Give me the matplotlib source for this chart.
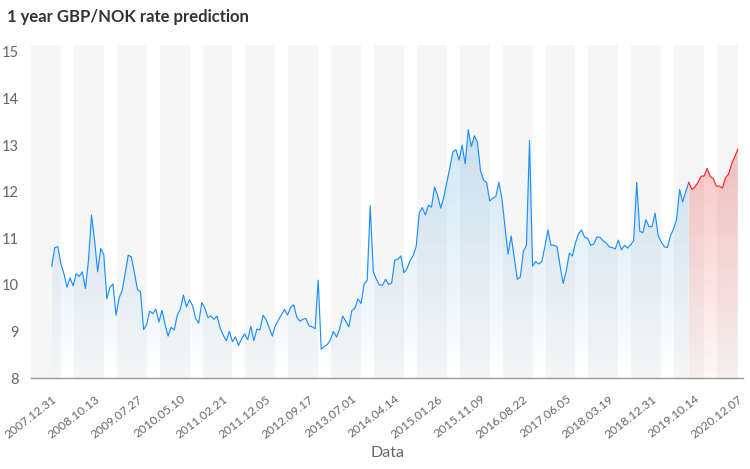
import numpy as np
import matplotlib.pyplot as plt
from matplotlib.colors import to_rgb

plt.rcParams['font.family'] = ['Lato', 'DejaVu Sans']

# weekly-ish GBP/NOK rate
history = [
    10.40, 10.80, 10.82, 10.45, 10.24, 9.95, 10.15, 9.98, 10.24, 10.18,
    10.28, 9.92, 10.52, 11.50, 10.95, 10.28, 10.78, 10.65, 9.70, 9.95,
    10.02, 9.35, 9.72, 9.88, 10.25, 10.64, 10.60, 10.26, 9.90, 9.85,
    9.04, 9.15, 9.44, 9.38, 9.48, 9.20, 9.45, 9.15, 8.90, 9.09,
    9.03, 9.35, 9.48, 9.78, 9.53, 9.68, 9.55, 9.28, 9.18, 9.62,
    9.50, 9.30, 9.33, 9.26, 9.33, 9.07, 8.92, 8.80, 9.00, 8.78,
    8.88, 8.70, 8.84, 8.95, 8.82, 9.11, 8.80, 9.05, 9.03, 9.35,
    9.25, 9.08, 8.90, 9.12, 9.24, 9.36, 9.47, 9.35, 9.52, 9.57,
    9.31, 9.22, 9.26, 9.28, 9.12, 9.10, 9.06, 10.10, 8.62, 8.68,
    8.72, 8.82, 9.00, 8.88, 9.05, 9.33, 9.22, 9.10, 9.45, 9.50,
    9.70, 9.60, 10.02, 10.10, 11.70, 10.28, 10.12, 10.00, 9.99, 10.12,
    10.01, 10.04, 10.53, 10.55, 10.62, 10.26, 10.35, 10.52, 10.63, 10.82,
    11.55, 11.66, 11.50, 11.71, 11.67, 12.10, 11.92, 11.65, 11.88, 12.20,
    12.52, 12.86, 12.90, 12.68, 13.00, 12.60, 13.33, 12.97, 13.20, 13.06,
    12.45, 12.25, 12.20, 11.80, 11.86, 11.90, 12.20, 11.85, 11.24, 10.66,
    11.05, 10.60, 10.12, 10.17, 10.72, 10.85, 13.10, 10.40, 10.50, 10.45,
    10.50, 10.81, 11.18, 10.85, 10.85, 10.82, 10.40, 10.03, 10.30, 10.68,
    10.62, 10.90, 11.10, 11.18, 11.02, 11.00, 10.85, 10.88, 11.03, 11.02,
    10.95, 10.90, 10.82, 10.80, 10.77, 10.96, 10.75, 10.85, 10.79, 10.86,
    10.95, 12.20, 11.15, 11.12, 11.40, 11.25, 11.25, 11.54, 11.06, 10.92,
    10.82, 10.80, 11.05, 11.20, 11.40, 12.05, 11.78, 12.00, 12.20,
]
forecast = [12.05, 12.10, 12.20, 12.33, 12.34, 12.50, 12.33, 12.28,
            12.12, 12.12, 12.08, 12.30, 12.38, 12.60, 12.75, 12.91]

tick_labels = ['2007.12.31', '2008.10.13', '2009.07.27', '2010.05.10',
               '2011.02.21', '2011.12.05', '2012.09.17', '2013.07.01',
               '2014.04.14', '2015.01.26', '2015.11.09', '2016.08.22',
               '2017.06.05', '2018.03.19', '2018.12.31', '2019.10.14',
               '2020.12.07']

YMIN = 8


def gradient_fill(ax, x, y, color, a_top, a_bot):
    poly = ax.fill_between(x, y, YMIN, facecolor='none', edgecolor='none')
    img = np.zeros((200, 1, 4))
    img[:, :, :3] = to_rgb(color)
    img[:, :, 3] = np.linspace(a_top, a_bot, 200)[:, None]
    im = ax.imshow(img, aspect='auto', origin='upper', zorder=1,
                   extent=[x[0], x[-1], YMIN, max(y)])
    im.set_clip_path(poly.get_paths()[0], transform=ax.transData)


fig = plt.figure(figsize=(7.5, 4.69), dpi=100)
ax = fig.add_axes([31 / 750, 1 - 378 / 469, 712 / 750, 333 / 469])

n_hist = len(history)
x_hist = np.arange(n_hist)
x_fc = np.arange(n_hist - 1, n_hist + len(forecast))
y_fc = [history[-1]] + forecast
last = x_fc[-1]
step = 14

# alternating grey bands
for k in range(len(tick_labels)):
    c = k * step
    ax.axvspan(c - 6.76, min(c + 3.0, last), color='#f6f6f6', lw=0, zorder=0)

gradient_fill(ax, x_hist, history, '#4a9fd6', 0.26, 0.0)
gradient_fill(ax, x_fc, y_fc, '#e84a4a', 0.32, 0.04)

ax.plot(x_hist, history, color='#1e90ff', lw=0.85, zorder=3)
ax.plot(x_fc, y_fc, color='#ff2222', lw=0.85, zorder=3)

ax.set_xlim(-6.76, last + 1.7)
ax.set_ylim(YMIN, 15.15)
ax.set_yticks(range(8, 16))
ax.set_xticks(np.arange(0, last + 1, step))
ax.set_xticklabels(tick_labels, rotation=38, ha='right', va='top',
                   rotation_mode='anchor')
ax.tick_params(axis='y', length=0, pad=9, labelsize=10.5, labelcolor='#666666')
ax.tick_params(axis='x', length=0, pad=11, labelsize=8.7, labelcolor='#666666')

for s in ['top', 'right', 'left']:
    ax.spines[s].set_visible(False)
ax.spines['bottom'].set_color('#999999')
ax.spines['bottom'].set_linewidth(1)
ax.spines['bottom'].set_zorder(4)

ax.set_xlabel('Data', fontsize=11.5, color='#666666')
ax.xaxis.set_label_coords(0.5, -0.225)
ax.xaxis.label.set_va('center')

fig.text(7 / 750, 1 - 17 / 469, '1 year GBP/NOK rate prediction',
         fontsize=12, fontweight='bold', color='#333333', va='center', ha='left')

plt.savefig('out.png', dpi=100)
